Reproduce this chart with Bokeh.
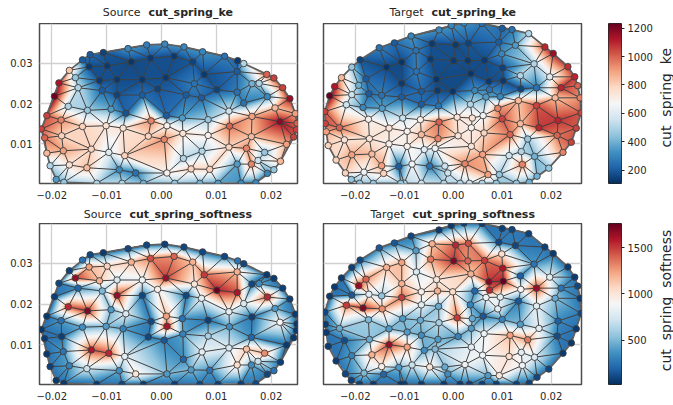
import numpy as np
from bokeh.core.properties import value
from bokeh.embed import file_html
from bokeh.resources import INLINE
from bokeh.layouts import column, row
from bokeh.models import ColumnDataSource, FixedTicker, LinearAxis, LinearColorMapper, Range1d
from bokeh.plotting import figure

# node positions, in thousandths of the axis unit
src_x = [-14.4,-13.0,-10.6,-6.1,-2.7,0.6,4.1,7.5,11.5,13.9,15.0,19.2,20.5,22.1,23.4,24.4,24.7,24.6,24.1,22.8,21.7,20.5,19.3,17.2,14.5,10.3,7.0,2.4,-3.3,-7.2,-11.8,-17.8,-19.2,-20.3,-20.9,-21.3,-21.9,-20.9,-19.5,-18.7,-16.8,
         -15.7,-13.2,-9.9,-5.5,-2.0,2.3,5.7,7.8,13.8,-11.3,-8.1,-3.5,0.8,6.0,10.1,13.8,16.5,17.8,-15.2,-10.8,-8.1,-3.5,-0.7,4.5,7.3,19.3,15.0,-17.0,-13.5,-9.2,-6.5,-1.9,0.9,3.8,8.5,12.3,16.5,20.7,-18.3,-14.4,-10.1,-7.0,1.0,12.4,21.6,-18.2,-2.4,0.5,3.9,8.5,16.4,12.3,15.5,18.8,-17.9,-12.8,-9.6,-6.7,4.0,7.4,13.8,16.4,17.6,-16.8,-13.6,-7.7,-4.7,1.0,5.4,8.8]
src_y = [30.8,32.1,32.6,33.6,34.5,34.7,34.0,32.8,31.7,30.6,29.9,27.2,26.3,23.9,21.2,17.5,15.1,13.5,11.7,9.9,5.7,3.6,2.7,0.4,0.3,0.25,0.25,0.25,0.25,0.25,0.25,0.5,1.2,4.6,7.7,11.5,13.7,17.0,21.8,25.1,28.2,
         26.4,29.1,29.3,30.3,31.2,31.7,30.3,27.2,27.9,25.7,25.9,25.9,26.4,24.9,23.4,22.8,24.9,25.0,23.9,23.2,22.1,22.1,23.6,22.1,21.4,21.7,20.1,19.3,18.3,18.6,17.6,15.7,17.0,16.4,16.0,18.1,16.8,18.9,15.9,14.3,14.5,13.9,14.5,14.4,15.5,12.0,11.9,11.1,12.6,12.1,11.8,9.2,8.9,7.9,8.3,8.7,7.9,7.1,6.4,8.2,5.0,5.0,5.9,4.8,4.1,3.6,2.8,2.8,3.8,3.7]
src_ke = [200,200,150,300,280,300,300,300,250,130,500,1000,1050,1050,1150,900,1000,1050,1050,900,850,450,300,300,300,350,400,450,400,500,500,450,350,500,850,1000,1050,1050,1220,1130,820,
          450,130,130,120,130,130,150,130,200,130,130,130,130,250,150,250,400,500,500,200,150,200,150,200,200,300,250,500,450,350,180,950,200,350,450,550,900,850,950,800,750,750,700,1000,1180,800,800,950,750,700,850,800,950,450,900,800,600,800,500,500,350,950,550,750,850,300,250,700,800,800]
src_soft = [250,100,60,100,100,80,100,100,100,250,100,60,60,80,80,60,50,60,60,60,80,250,100,100,80,80,100,80,70,100,60,60,50,80,50,60,50,50,70,100,80,
            1650,1250,1100,1200,1450,1400,1200,1500,1200,1200,750,850,1650,1000,1750,1600,100,350,200,500,1650,100,950,100,800,1550,750,1550,1700,400,750,100,1250,250,80,800,80,400,250,350,400,300,1600,350,900,80,100,150,300,600,200,750,1150,1300,250,1600,1550,800,200,800,1050,350,700,300,700,350,1000,400,400,250]

tgt_x = [-0.4,2.2,5.9,10.0,12.0,15.4,18.7,20.4,23.4,24.8,25.4,25.9,26.1,25.1,24.1,22.4,19.5,17.1,15.5,12.9,8.8,5.9,3.3,1.4,-1.9,-6.5,-10.0,-10.7,-16.3,-19.1,-20.8,-22.0,-23.9,-25.5,-25.9,-26.1,-26.2,-25.2,-24.2,-22.8,-20.7,-19.0,-15.1,-12.0,-8.6,-2.9,
         -4.3,0.5,3.1,-7.6,9.3,12.7,9.9,-10.5,-4.6,0.1,3.0,6.4,16.5,-13.6,-7.5,10.1,13.7,19.7,3.6,-3.4,-17.8,-10.5,7.3,10.2,-19.3,22.0,17.0,13.8,-6.5,-3.2,-0.1,4.4,7.4,-17.2,-20.7,-14.6,-10.5,20.8,13.3,3.5,6.7,9.6,17.0,-6.5,-3.0,-21.8,-18.4,-14.5,9.1,6.1,10.0,0.8,3.9,13.7,21.4,17.5,-17.3,-10.3,-6.7,-2.9,-23.2,-13.1,-9.4,-6.5,-3.1,1.0,3.7,6.3,11.6,15.2,21.2,-17.1,-22.2,-13.1,-9.4,-5.9,-3.7,3.7,13.9,6.0,11.4,16.6,-20.7,-16.6,-14.6,-11.1,-8.4,-4.8,-1.7,2.4,14.1,-18.2,-14.2,-1.1,7.1,9.4]
tgt_y = [39.3,39.9,39.8,38.6,38.3,37.3,34.0,32.4,29.1,26.6,24.4,21.4,17.7,13.9,10.4,7.9,4.0,2.0,0.5,0.25,0.25,0.25,0.25,0.25,0.25,0.25,0.25,0.25,0.25,0.25,1.2,2.8,6.0,9.6,13.0,15.0,18.0,21.9,24.2,26.4,29.0,30.8,33.8,35.0,36.7,38.2,
         34.8,34.5,34.9,33.1,35.2,34.4,32.3,30.2,31.0,30.6,30.6,30.7,29.8,29.0,27.9,28.8,26.9,26.6,27.4,26.0,26.1,25.0,25.5,25.6,24.5,23.9,23.9,23.6,23.0,23.2,23.0,23.2,23.4,22.4,22.2,22.0,21.6,21.4,20.7,19.8,21.6,21.7,19.5,19.8,19.4,19.7,19.0,18.8,18.8,17.0,16.2,16.6,16.4,15.0,15.8,14.0,16.1,16.4,16.0,15.4,14.0,13.9,13.1,12.3,11.3,12.0,14.0,12.7,12.3,11.2,12.1,11.3,11.0,10.0,9.4,8.6,8.9,9.4,8.1,7.4,7.1,6.9,7.3,7.5,4.6,4.4,5.0,4.5,4.5,5.1,4.9,3.0,2.7,2.8,2.4,2.4]
tgt_ke = [300,300,250,200,250,500,1100,1150,1080,1100,1000,950,1050,1050,1050,950,450,400,400,450,450,500,550,500,500,550,500,450,450,450,450,800,800,800,900,1050,1050,1230,1120,850,450,150,250,200,300,300,
          130,130,150,250,200,350,300,120,130,130,130,130,500,120,250,150,500,600,120,120,200,130,130,130,400,1100,250,150,200,130,120,300,250,200,550,250,200,850,850,500,350,300,1050,200,250,550,300,350,950,650,1050,750,750,850,1100,1100,700,550,700,1000,1000,750,700,850,950,750,700,800,1000,450,1000,750,750,700,700,600,650,750,500,900,550,400,900,850,900,200,650,250,550,950,950,650,800,550,900,450]
tgt_soft = [60,80,60,80,100,80,80,60,60,60,100,60,100,60,60,60,100,100,80,80,70,80,80,60,60,70,60,60,60,80,80,100,60,60,60,60,100,60,60,60,80,100,150,150,100,60,
            1200,1550,1450,400,100,100,1050,1250,1350,1700,1400,1500,250,1200,750,1600,180,800,1200,1000,1400,1200,1700,1750,1650,250,1650,900,950,1200,1050,200,1550,800,150,550,1500,450,150,300,850,800,800,800,450,1500,1700,1300,800,150,300,1500,450,400,180,800,500,400,450,600,450,400,400,350,400,300,400,850,1250,1350,120,450,120,1650,1250,350,500,800,800,850,1050,750,300,1200,950,400,700,1000,450,850,850,500,200,350,400,1000]

ke_ticks = [200, 400, 600, 800, 1000, 1200]
soft_ticks = [500, 1000, 1500]
x_ticks = [-0.02, -0.01, 0.0, 0.01, 0.02]
x_labels = ["\u22120.02", "\u22120.01", "0.00", "0.01", "0.02"]
y_ticks = [0.01, 0.02, 0.03]
y_labels = ["0.01", "0.02", "0.03"]
ke_range = (106, 1233)
soft_range = (20, 1763)
src_xlim = (-0.02224, 0.0248)
tgt_xlim = (-0.02647, 0.02618)
ylim = (0.0002, 0.0398)

STOPS = ["#053061","#2166ac","#4393c3","#92c5de","#d1e5f0","#f7f7f7","#fddbc7","#f4a582","#d6604d","#b2182b","#67001f"]
INK = "#262626"
FONT = "DejaVu Sans"


def make_palette():
    rgb = np.array([[int(c[i:i + 2], 16) for i in (1, 3, 5)] for c in STOPS], float)
    t = np.linspace(0, 10, 256)
    out = [np.interp(t, np.arange(11), rgb[:, k]) for k in range(3)]
    return ["#%02x%02x%02x" % (int(r), int(g), int(b)) for r, g, b in zip(*out)]


PALETTE = make_palette()


def delaunay(xs, ys):
    pts = [(float(a), float(b)) for a, b in zip(xs, ys)]
    n = len(pts)
    big = 1e3
    pts += [(-big, -big), (big, -big), (0.0, big)]
    tris = [(n, n + 1, n + 2)]

    def in_circle(t, p):
        (ax, ay), (bx, by), (cx, cy) = (pts[i] for i in t)
        d = 2 * (ax * (by - cy) + bx * (cy - ay) + cx * (ay - by))
        if d == 0:
            return False
        ux = ((ax*ax+ay*ay)*(by-cy) + (bx*bx+by*by)*(cy-ay) + (cx*cx+cy*cy)*(ay-by)) / d
        uy = ((ax*ax+ay*ay)*(cx-bx) + (bx*bx+by*by)*(ax-cx) + (cx*cx+cy*cy)*(bx-ax)) / d
        return (p[0]-ux)**2 + (p[1]-uy)**2 < (ax-ux)**2 + (ay-uy)**2

    for i in range(n):
        bad = [t for t in tris if in_circle(t, pts[i])]
        count = {}
        for t in bad:
            for a, b in ((t[0], t[1]), (t[1], t[2]), (t[2], t[0])):
                k = (min(a, b), max(a, b))
                count[k] = count.get(k, 0) + 1
        tris = [t for t in tris if t not in bad]
        tris += [(a, b, i) for (a, b), c in count.items() if c == 1]
    return [t for t in tris if max(t) < n]


def panel(xm, ym, vals, vr, contrast, xlim, width, left, right, height, bottom, show_y):
    x = np.array(xm) * 1e-3
    y = np.array(ym) * 1e-3
    v = np.array(vals, float)
    tris = delaunay(xm, ym)
    mapper = LinearColorMapper(palette=PALETTE, low=vr[0], high=vr[1], nan_color="rgba(0,0,0,0)")

    p = figure(width=width, height=height, output_backend="svg", toolbar_location=None,
               x_range=Range1d(*xlim), y_range=Range1d(*ylim),
               min_border_left=left, min_border_right=right, min_border_top=0, min_border_bottom=bottom)

    # shaded surface: each mesh cell is filled between its three node values
    nx, ny = (width - left - right) * 2, (height - bottom) * 2
    gx = xlim[0] + (np.arange(nx) + .5) / nx * (xlim[1] - xlim[0])
    gy = ylim[0] + (np.arange(ny) + .5) / ny * (ylim[1] - ylim[0])
    X, Y = np.meshgrid(gx, gy)
    img = np.full(X.shape, np.nan)
    for a, b, c in tris:
        det = (y[b]-y[c])*(x[a]-x[c]) + (x[c]-x[b])*(y[a]-y[c])
        if det == 0:
            continue
        l1 = ((y[b]-y[c])*(X-x[c]) + (x[c]-x[b])*(Y-y[c])) / det
        l2 = ((y[c]-y[a])*(X-x[c]) + (x[a]-x[c])*(Y-y[c])) / det
        l3 = 1 - l1 - l2
        m = (l1 >= -1e-9) & (l2 >= -1e-9) & (l3 >= -1e-9)
        img[m] = (l1*v[a] + l2*v[b] + l3*v[c])[m]
    mid = (vr[0] + vr[1]) / 2
    img = mid + (img - mid) * contrast
    p.image(image=[img], x=xlim[0], y=ylim[0], dw=xlim[1]-xlim[0], dh=ylim[1]-ylim[0], color_mapper=mapper)

    edges = {}
    for t in tris:
        for i, j in ((t[0], t[1]), (t[1], t[2]), (t[2], t[0])):
            k = (min(i, j), max(i, j))
            edges[k] = edges.get(k, 0) + 1
    inner = [k for k, c in edges.items() if c == 2]
    outer = [k for k, c in edges.items() if c == 1]
    p.multi_line([[x[i], x[j]] for i, j in inner], [[y[i], y[j]] for i, j in inner],
                 line_color="#404040", line_width=1.0)
    p.multi_line([[x[i], x[j]] for i, j in outer], [[y[i], y[j]] for i, j in outer],
                 line_color="#606060", line_width=1.8)
    src = ColumnDataSource(dict(x=x, y=y, v=v))
    p.scatter("x", "y", source=src, size=6.5, line_color="#404040", line_width=0.9,
              fill_color={"field": "v", "transform": mapper})

    p.grid.grid_line_color = "#d0d0d0"
    p.grid.grid_line_width = 1.3
    p.xgrid.ticker = FixedTicker(ticks=x_ticks)
    p.ygrid.ticker = FixedTicker(ticks=y_ticks)
    p.xaxis.ticker = FixedTicker(ticks=x_ticks)
    p.yaxis.ticker = FixedTicker(ticks=y_ticks)
    p.xaxis.major_label_overrides = dict(zip(x_ticks, x_labels))
    p.yaxis.major_label_overrides = dict(zip(y_ticks, y_labels))
    for ax in (p.xaxis[0], p.yaxis[0]):
        ax.major_tick_in = 0
        ax.major_tick_out = 0
        ax.minor_tick_in = 0
        ax.minor_tick_out = 0
        ax.axis_line_color = None
        ax.major_label_text_font = FONT
        ax.major_label_text_font_size = "10px"
        ax.major_label_text_color = INK
        ax.major_label_standoff = 7
    p.yaxis.visible = show_y
    p.outline_line_color = "#4d4d4d"
    p.outline_line_width = 1.5
    return p


def title_strip(plain, bold, split, width, height):
    """A frameless band above a panel, holding the panel's two-weight title."""
    p = figure(width=width, height=height, output_backend="svg", toolbar_location=None,
               x_range=Range1d(0, width), y_range=Range1d(0, height), x_axis_location=None, y_axis_location=None,
               min_border=0, outline_line_color=None)
    p.grid.visible = False
    p.text([split - 8], [height / 2], text=[plain], text_font=value(FONT), text_font_size="11px",
           text_color=INK, text_align="right", text_baseline="middle")
    p.text([split], [height / 2], text=[bold], text_font=value(FONT), text_font_style="bold",
           text_font_size="11px", text_color=INK, text_align="left", text_baseline="middle")
    return p


def cbar(vr, ticks, height, bottom):
    p = figure(width=55, height=height, output_backend="svg", toolbar_location=None,
               x_range=Range1d(0, 1), y_range=Range1d(*vr), x_axis_location=None, y_axis_location=None,
               min_border_left=8, min_border_right=33, min_border_top=0, min_border_bottom=bottom)
    mapper = LinearColorMapper(palette=PALETTE, low=vr[0], high=vr[1])
    p.image(image=[np.linspace(vr[0], vr[1], 256).reshape(-1, 1)], x=0, y=vr[0], dw=1, dh=vr[1]-vr[0], color_mapper=mapper)
    ax = LinearAxis(ticker=FixedTicker(ticks=ticks))
    ax.major_tick_in = 0
    ax.major_tick_out = 3
    ax.minor_tick_in = 0
    ax.minor_tick_out = 0
    ax.major_tick_line_color = INK
    ax.axis_line_color = None
    ax.major_label_text_font = FONT
    ax.major_label_text_font_size = "10px"
    ax.major_label_text_color = INK
    ax.major_label_standoff = 3
    p.add_layout(ax, "right")
    p.grid.visible = False
    p.outline_line_color = INK
    p.outline_line_width = 1.0
    return p


def cbar_label(text, width, height, yc):
    p = figure(width=width, height=height, output_backend="svg", toolbar_location=None,
               x_range=Range1d(0, width), y_range=Range1d(0, height), x_axis_location=None, y_axis_location=None,
               min_border=0, outline_line_color=None)
    p.grid.visible = False
    p.text([10.5], [height - yc], text=[text], text_font=value(FONT), text_font_size="14px",
           text_color=INK, text_align="center", text_baseline="middle", angle=90, angle_units="deg")
    return p


def blank(w, h):
    p = figure(width=w, height=h, output_backend="svg", toolbar_location=None, min_border=0,
               x_axis_location=None, y_axis_location=None, outline_line_color=None)
    p.grid.visible = False
    p.line([0], [0], line_alpha=0)
    return p


# row heights (title band + panel with its tick labels)
TS1, H1, B1 = 23, 181, 21
TS2, H2, B2 = 19, 182, 21
f1 = panel(src_x, src_y, src_ke, ke_range, 0.92, src_xlim, 310, 39, 13, H1, B1, True)
f2 = panel(tgt_x, tgt_y, tgt_ke, ke_range, 0.92, tgt_xlim, 290, 13, 19, H1, B1, False)
f3 = panel(src_x, src_y, src_soft, soft_range, 0.78, src_xlim, 310, 39, 13, H2, B2, True)
f4 = panel(tgt_x, tgt_y, tgt_soft, soft_range, 0.78, tgt_xlim, 290, 13, 19, H2, B2, False)
t1 = title_strip("Source", "cut_spring_ke", 148, 310, TS1)
t2 = title_strip("Target", "cut_spring_ke", 121, 290, TS1)
t3 = title_strip("Source", "cut_spring_softness", 129, 310, TS2)
t4 = title_strip("Target", "cut_spring_softness", 102, 290, TS2)
c1 = cbar(ke_range, ke_ticks, H1, B1)
c2 = cbar(soft_range, soft_ticks, H2, B2)
l1 = cbar_label("cut\u00a0\u00a0spring\u00a0\u00a0ke", 18, H1, 84)
l2 = cbar_label("cut\u00a0\u00a0spring\u00a0\u00a0softness", 18, H2, 87)

page = column(
    row(t1, t2, blank(73, TS1), spacing=0),
    row(f1, f2, c1, l1, spacing=0),
    row(t3, t4, blank(73, TS2), spacing=0),
    row(f3, f4, c2, l2, spacing=0),
    spacing=0)
open("out.html", "w").write(file_html(page, INLINE))
